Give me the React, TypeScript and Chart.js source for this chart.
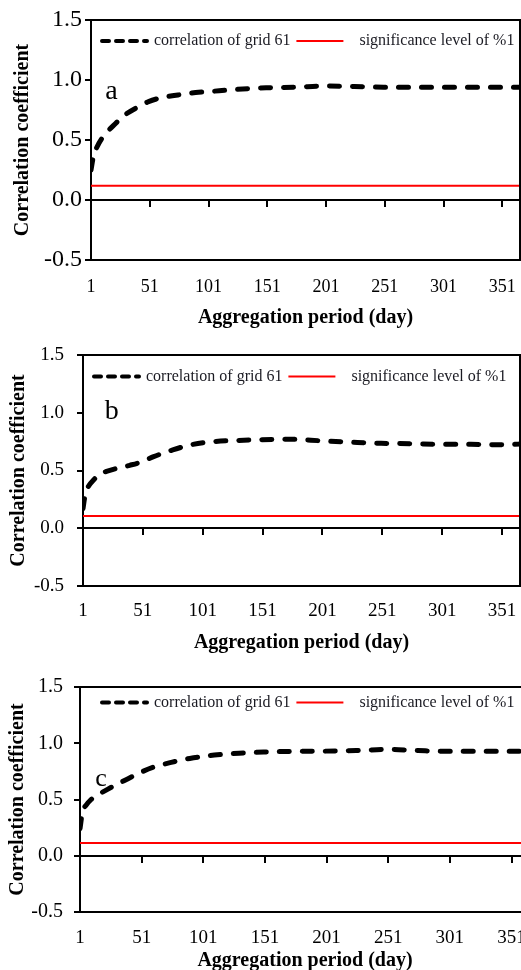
import React, { useEffect, useRef } from 'react';
import { Chart, registerables } from 'chart.js';

Chart.register(...registerables);

// ---------- data ----------
const days = [1, 3, 6, 10, 15, 20, 30, 40, 50, 60, 75, 90, 110, 130, 150, 175, 200, 225, 250, 275, 300, 325, 350, 366];
const corrA = [0.25, 0.36, 0.44, 0.51, 0.57, 0.62, 0.71, 0.77, 0.82, 0.85, 0.875, 0.895, 0.91, 0.925, 0.935, 0.94, 0.95, 0.945, 0.94, 0.94, 0.94, 0.94, 0.94, 0.94];
const corrB = [0.17, 0.3, 0.37, 0.42, 0.47, 0.49, 0.52, 0.545, 0.575, 0.62, 0.675, 0.72, 0.75, 0.76, 0.767, 0.77, 0.757, 0.745, 0.735, 0.732, 0.727, 0.727, 0.722, 0.73];
const corrC = [0.24, 0.39, 0.45, 0.5, 0.54, 0.57, 0.63, 0.685, 0.74, 0.785, 0.83, 0.865, 0.895, 0.912, 0.922, 0.928, 0.93, 0.935, 0.945, 0.935, 0.928, 0.928, 0.928, 0.928];
const sigLevels = [0.118, 0.107, 0.114];
const xTicks = [1, 51, 101, 151, 201, 251, 301, 351];
const yTicks = [-0.5, 0, 0.5, 1.0, 1.5];
const seriesLabels = ['correlation of grid 61', 'significance level of %1'];
const panelLetters = ['a', 'b', 'c'];
const xTitle = 'Aggregation period (day)';
const yTitle = 'Correlation coefficient';
const xRange = [1, 366];

const corrSeries = [corrA, corrB, corrC];

const SERIF = "'Liberation Serif', 'Times New Roman', serif";

// ---------- layout per panel (pixels, relative to each canvas) ----------
const panels = [
  { top: 0, height: 330, width: 521, area: { left: 91, top: 20, right: 520, bottom: 260 },
    yTickSize: 24, yTickPad: 3, xTickSize: 18, xTickPad: 16, yTitlePad: 11,
    legend: { dx: 9, dy: 21 }, letter: { x: 18.5, y: 0.84, size: 28 } },
  { top: 330, height: 325, width: 521, area: { left: 83, top: 25, right: 520, bottom: 256 },
    yTickSize: 19, yTickPad: 13, xTickSize: 19, xTickPad: 13.5, yTitlePad: 7,
    legend: { dx: 9, dy: 21.5 }, letter: { x: 25, y: 0.95, size: 28 } },
  { top: 655, height: 318, width: 532, area: { left: 80, top: 32, right: 530, bottom: 257 },
    yTickSize: 20, yTickPad: 11, xTickSize: 19, xTickPad: 14.5, yTitlePad: 6,
    legend: { dx: 20, dy: 15.5 }, letter: { x: 18, y: 0.62, size: 26 } },
];

// ---------- plugins ----------
const framePlugin = {
  id: 'frame',
  afterDraw(chart: any) {
    const { ctx, chartArea: a } = chart;
    ctx.save();
    ctx.strokeStyle = '#000';
    ctx.lineWidth = 2;
    ctx.beginPath();
    ctx.moveTo(a.left, a.top);
    ctx.lineTo(a.right, a.top);
    ctx.lineTo(a.right, a.bottom);
    ctx.stroke();
    ctx.restore();
  },
};

const insideLegend = {
  id: 'insideLegend',
  afterDraw(chart: any, _args: any, opts: any) {
    const { ctx, chartArea } = chart;
    let x = chartArea.left + opts.dx;
    const y = chartArea.top + opts.dy;
    ctx.save();
    ctx.font = `16px ${SERIF}`;
    ctx.textBaseline = 'middle';
    ctx.textAlign = 'left';
    chart.data.datasets.forEach((ds: any, i: number) => {
      ctx.strokeStyle = ds.borderColor;
      ctx.lineWidth = i === 0 ? 4 : 2;
      ctx.lineCap = i === 0 ? 'round' : 'butt';
      ctx.setLineDash(i === 0 ? [7, 7] : []);
      ctx.beginPath();
      ctx.moveTo(x + (i === 0 ? 2 : 0), y);
      ctx.lineTo(x + 47, y);
      ctx.stroke();
      ctx.setLineDash([]);
      x += 47 + (i === 0 ? 7 : 16);
      ctx.fillStyle = '#1a1a22';
      ctx.fillText(ds.label, x, y);
      x += ctx.measureText(ds.label).width + 6;
    });
    ctx.restore();
  },
};

const letterPlugin = {
  id: 'panelLetter',
  afterDatasetsDraw(chart: any, _args: any, opts: any) {
    const { ctx, scales } = chart;
    ctx.save();
    ctx.font = `${opts.size}px ${SERIF}`;
    ctx.fillStyle = '#000';
    ctx.textAlign = 'center';
    ctx.textBaseline = 'alphabetic';
    ctx.fillText(opts.text, scales.x.getPixelForValue(opts.x), scales.y.getPixelForValue(opts.y));
    ctx.restore();
  },
};

const zeroPad = (s: any) => {
  s.paddingLeft = 0;
  s.paddingRight = 0;
  s.paddingTop = 0;
  s.paddingBottom = 0;
};

function Panel({ idx }: { idx: number }) {
  const ref = useRef<HTMLCanvasElement>(null);
  const p = panels[idx];
  useEffect(() => {
    if (!ref.current) return;
    const setTicks = (s: any) => {
      s.ticks = xTicks.map((v) => ({ value: v }));
    };
    const chart = new Chart(ref.current, {
      type: 'line',
      data: {
        datasets: [
          {
            label: seriesLabels[0],
            data: days.map((d, i) => ({ x: d, y: corrSeries[idx][i] })),
            borderColor: '#000',
            borderWidth: 5,
            borderDash: [10, 13],
            borderCapStyle: 'round',
            cubicInterpolationMode: 'monotone',
            pointRadius: 0,
            fill: false,
          },
          {
            label: seriesLabels[1],
            data: xRange.map((d) => ({ x: d, y: sigLevels[idx] })),
            borderColor: '#ff0000',
            borderWidth: 2,
            pointRadius: 0,
            fill: false,
          },
        ],
      },
      options: {
        responsive: false,
        animation: false,
        events: [],
        layout: {
          padding: {
            left: 0,
            top: p.area.top,
            right: p.width - p.area.right,
            bottom: 0,
          },
        },
        plugins: {
          legend: { display: false },
          tooltip: { enabled: false },
          insideLegend: p.legend,
          panelLetter: { ...p.letter, text: panelLetters[idx] },
        } as any,
        scales: {
          x: {
            type: 'linear',
            position: 'bottom',
            min: xRange[0],
            max: xRange[1],
            afterBuildTicks: setTicks,
            afterFit: (s: any) => {
              s.height = p.height - p.area.bottom;
              zeroPad(s);
            },
            grid: { display: true, drawOnChartArea: false, drawTicks: false },
            border: { display: true, color: '#000', width: 2 },
            ticks: {
              color: '#000',
              padding: p.xTickPad,
              maxRotation: 0,
              autoSkip: false,
              font: { family: SERIF, size: p.xTickSize },
              callback: (v: any) => String(v),
            },
            title: {
              display: true,
              text: xTitle,
              color: '#000',
              padding: 0,
              font: { family: SERIF, size: 20, weight: 'bold' },
            },
          },
          xZero: {
            type: 'linear',
            axis: 'x',
            position: { y: 0 },
            min: xRange[0],
            max: xRange[1],
            afterBuildTicks: setTicks,
            afterFit: zeroPad,
            grid: { display: true, drawOnChartArea: false, drawTicks: true, tickLength: 6, color: '#000', lineWidth: 2 },
            border: { display: true, color: '#000', width: 2 },
            ticks: { display: false },
          },
          y: {
            type: 'linear',
            position: 'left',
            min: yTicks[0],
            max: yTicks[yTicks.length - 1],
            afterBuildTicks: (s: any) => {
              s.ticks = yTicks.map((v) => ({ value: v }));
            },
            afterFit: (s: any) => {
              s.width = p.area.left;
              zeroPad(s);
            },
            grid: { display: true, drawOnChartArea: false, drawTicks: true, tickLength: 6, color: '#000', lineWidth: 2 },
            border: { display: true, color: '#000', width: 2 },
            ticks: {
              color: '#000',
              padding: p.yTickPad,
              font: { family: SERIF, size: p.yTickSize },
              callback: (v: any) => Number(v).toFixed(1),
            },
            title: {
              display: true,
              text: yTitle,
              color: '#000',
              padding: { top: p.yTitlePad, bottom: 0 },
              font: { family: SERIF, size: 20, weight: 'bold' },
            },
          },
        } as any,
      },
      plugins: [framePlugin, insideLegend, letterPlugin],
    } as any);
    return () => chart.destroy();
  }, [idx]);
  return (
    <div style={{ position: 'absolute', left: 0, top: p.top, width: p.width, height: p.height }}>
      <canvas ref={ref} width={p.width} height={p.height} style={{ display: 'block', width: p.width, height: p.height }} />
    </div>
  );
}

export default function App() {
  return (
    <div style={{ position: 'absolute', left: 0, top: 0, width: 521, height: 970, overflow: 'hidden', background: '#fff' }}>
      {panels.map((_, i) => (
        <Panel key={i} idx={i} />
      ))}
    </div>
  );
}
